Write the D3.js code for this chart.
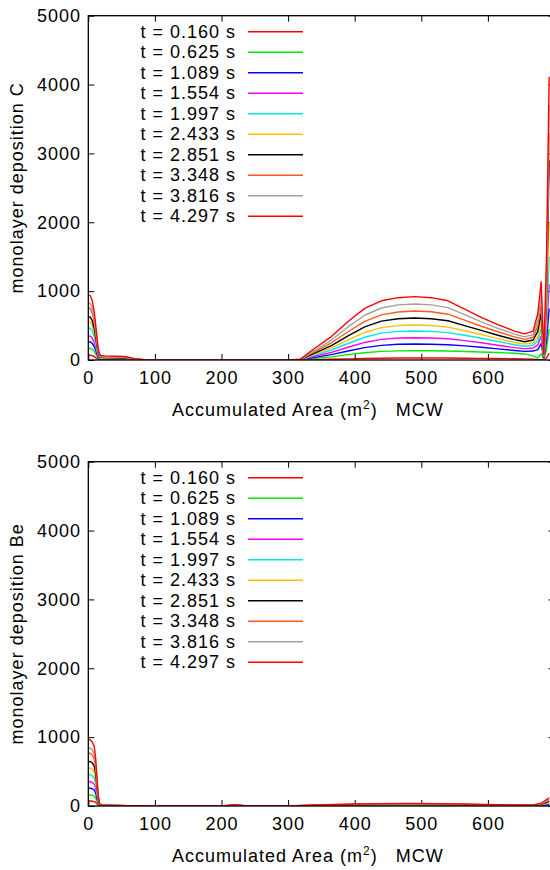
<!DOCTYPE html>
<html><head><meta charset="utf-8">
<script src="https://cdn.jsdelivr.net/npm/d3@7/dist/d3.min.js"></script>
<style>
body{margin:0;background:#fff}
text{font-family:"Liberation Sans",Arial,Helvetica,sans-serif;font-size:18px;letter-spacing:1px;fill:#000}
</style>
</head><body>
<svg id="chart" width="550" height="870"></svg>
<script>
// ---- data ----
const times = ["0.160","0.625","1.089","1.554","1.997","2.433","2.851","3.348","3.816","4.297"];
const colors = ["#ff0000","#00ee00","#0000ff","#ff00ff","#00e8e8","#ffc000","#000000","#ff5a1a","#a0a0a0","#ff0000"];
const xTicks = [0,100,200,300,400,500,600];
const yTicks = [0,1000,2000,3000,4000,5000];

// accumulated area grid for deposition C
const areaC = [0,3,6,9,12,15,18,25,40,55,70,85,100,200,300,318,340,365,390,415,440,465,490,515,540,565,590,615,640,655,668,675,680,684,688,692];
const C_0160 = [72,70,62,48,28,10,4,3,2,2,1,0,0,0,0,0,5,10,17,22,26,28,29,29,28,26,24,22,19,17,12,5,0,0,30,100];
const C_0625 = [170,168,153,122,73,25,10,8,7,6,2,0,0,0,0,1,22,45,78,105,125,133,135,134,130,124,117,108,97,88,60,30,90,5,150,450];
const C_1089 = [266,263,240,190,115,38,15,13,12,10,4,1,0,0,0,2,38,78,130,180,213,228,232,229,222,205,185,162,138,125,130,150,240,15,280,750];
const C_1554 = [348,344,315,250,150,50,20,18,16,14,5,1,0,0,0,3,55,110,185,255,300,320,324,320,308,282,250,215,180,165,175,220,350,20,400,1100];
const C_1997 = [464,458,420,335,200,65,26,23,21,19,7,1,0,0,0,4,70,145,240,330,390,415,421,415,398,360,315,268,222,200,215,280,450,30,550,1500];
const C_2433 = [556,550,500,400,240,80,32,28,26,23,9,2,0,0,0,5,85,175,290,400,470,500,508,500,478,425,370,310,255,230,250,340,560,35,700,2000];
const C_2851 = [628,622,570,450,270,90,38,34,32,28,11,2,0,0,0,6,100,210,350,480,565,600,610,600,570,500,430,360,295,265,290,420,680,40,900,2900];
const C_3348 = [755,748,680,540,320,110,45,40,38,34,13,3,1,0,0,7,120,250,410,560,655,698,711,700,665,580,490,410,335,300,330,500,800,50,1000,3300];
const C_3816 = [827,820,750,600,360,120,50,45,42,38,15,4,1,0,0,8,140,290,480,650,755,800,813,800,760,660,555,460,375,335,370,580,950,60,1100,3700];
const C_4297 = [943,935,860,700,430,150,65,60,55,50,20,5,2,0,0,10,170,340,560,750,860,905,920,905,860,740,620,515,420,380,420,680,1136,80,1500,4112];

// accumulated area grid for deposition Be
const areaBe = [0,3,6,9,11,13,15,17,20,30,60,100,200,220,240,300,340,400,480,560,640,670,680,686,692];
const Be_0160 = [73,72,70,64,52,32,11,2,1,1,0,0,0,1,0,0,1,2,2,2,1,1,2,4,8];
const Be_0625 = [161,160,155,142,116,70,25,5,2,2,0,0,0,2,0,0,2,4,5,4,2,2,4,9,15];
const Be_1089 = [260,258,250,230,188,113,40,7,3,3,1,0,0,3,0,0,3,6,7,6,3,4,7,15,25];
const Be_1554 = [356,353,342,315,258,155,55,10,5,4,1,0,0,5,0,0,4,8,10,8,4,5,10,22,35];
const Be_1997 = [455,452,438,403,330,198,70,12,6,5,2,0,0,6,0,0,5,11,14,11,5,7,14,30,46];
const Be_2433 = [553,549,532,490,400,240,85,15,7,6,2,1,0,8,0,0,7,14,18,14,7,9,18,38,58];
const Be_2851 = [650,645,625,575,470,285,100,18,8,7,3,1,0,10,0,0,8,17,22,17,8,11,22,45,70];
const Be_3348 = [770,765,740,680,555,335,120,22,10,8,3,1,0,12,0,0,10,21,27,21,10,13,27,55,85];
const Be_3816 = [846,840,815,750,610,370,130,25,12,10,4,1,0,15,0,0,12,25,32,25,12,16,32,65,100];
const Be_4297 = [966,960,930,860,700,420,150,30,15,12,5,2,0,20,0,0,15,30,38,30,15,20,40,80,120];

const seriesC = [C_0160,C_0625,C_1089,C_1554,C_1997,C_2433,C_2851,C_3348,C_3816,C_4297];
const seriesBe = [Be_0160,Be_0625,Be_1089,Be_1554,Be_1997,Be_2433,Be_2851,Be_3348,Be_3816,Be_4297];

// ---- drawing ----
const svg = d3.select("#chart");
const L = 88.3, R = 554.5;

function panel(id, top, bottom, xs, series, ylabel) {
  const g = svg.append("g");
  const x = d3.scaleLinear().domain([0,700]).range([L,R]);
  const y = d3.scaleLinear().domain([0,5000]).range([bottom,top]);

  g.append("clipPath").attr("id","clip"+id).append("rect")
    .attr("x",L).attr("y",top).attr("width",R-L).attr("height",bottom-top);

  // axes (inward ticks)
  const ax = g.append("g").attr("transform",`translate(0,${bottom})`)
    .call(d3.axisBottom(x).tickValues(xTicks).tickSizeInner(-6).tickSizeOuter(0).tickPadding(11.5).tickFormat(d3.format("d")));
  const ay = g.append("g").attr("transform",`translate(${L},0)`)
    .call(d3.axisLeft(y).tickValues(yTicks).tickSizeInner(-6).tickSizeOuter(0).tickPadding(7.3).tickFormat(d3.format("d")));
  const at = g.append("g").attr("transform",`translate(0,${top})`)
    .call(d3.axisTop(x).tickValues(xTicks).tickSizeInner(-6).tickSizeOuter(0).tickFormat(""));
  const ar = g.append("g").attr("transform",`translate(${R},0)`)
    .call(d3.axisRight(y).tickValues(yTicks).tickSizeInner(-6).tickSizeOuter(0).tickFormat(""));
  [ax,ay,at,ar].forEach(a=>{
    a.select(".domain").remove();
    a.selectAll("line").attr("stroke","#000").attr("stroke-width",1);
    a.selectAll("text").attr("font-size",null).attr("font-family",null).attr("fill","#000");
  });

  // lines
  const line = d3.line().x((d,i)=>x(xs[i])).y(d=>y(d));
  g.append("g").attr("clip-path",`url(#clip${id})`)
    .selectAll("path").data(series).join("path")
    .attr("d",d=>line(d)).attr("fill","none")
    .attr("stroke",(d,i)=>colors[i]).attr("stroke-width",1.4)
    .attr("stroke-linejoin","round");

  // frame
  g.append("rect").attr("x",L).attr("y",top).attr("width",R-L).attr("height",bottom-top)
    .attr("fill","none").attr("stroke","#000").attr("stroke-width",1.3);

  // legend
  const lg = g.append("g");
  times.forEach((t,i)=>{
    const ry = top + 16 + i*20.5;
    lg.append("text").attr("x",236).attr("y",ry+6).attr("text-anchor","end").text(`t = ${t} s`);
    lg.append("line").attr("x1",248).attr("x2",303).attr("y1",ry).attr("y2",ry)
      .attr("stroke",colors[i]).attr("stroke-width",1.4);
  });

  // axis titles
  const xt = g.append("text").attr("x",172).attr("y",bottom+56).attr("xml:space","preserve");
  xt.append("tspan").text("Accumulated Area (m");
  xt.append("tspan").attr("font-size","12px").attr("dy",-7).text("2");
  xt.append("tspan").attr("dy",7).text(")   MCW");

  g.append("text").attr("transform",`translate(23,${(top+bottom)/2}) rotate(-90)`)
    .attr("text-anchor","middle").text(ylabel);
}

panel("C", 15.7, 360, areaC, seriesC, "monolayer deposition C");
panel("Be", 461.7, 806, areaBe, seriesBe, "monolayer deposition Be");
</script>
</body></html>
